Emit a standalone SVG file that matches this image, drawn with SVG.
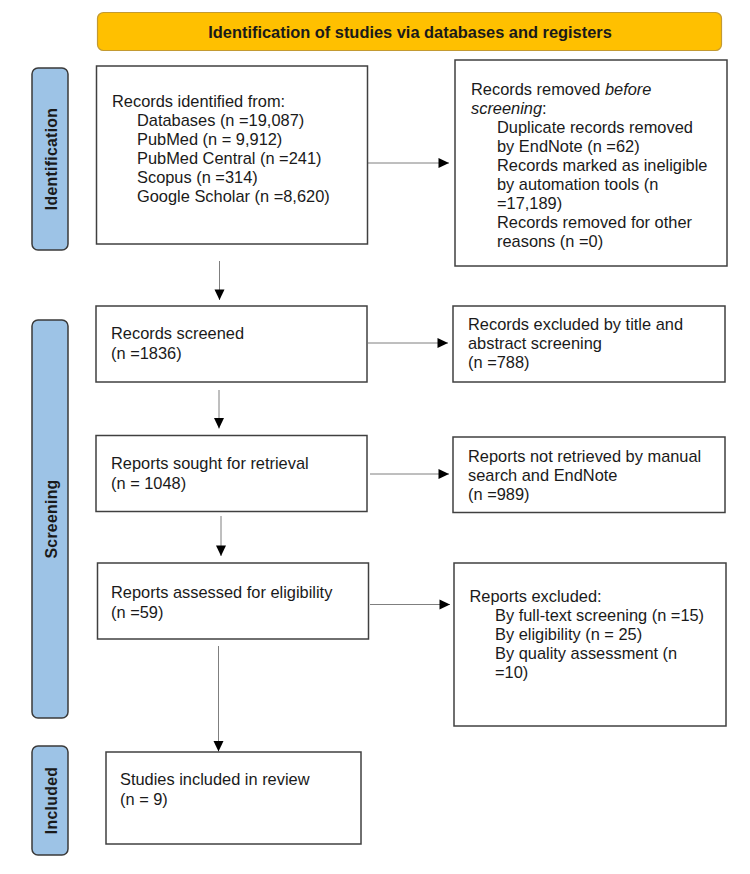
<svg xmlns="http://www.w3.org/2000/svg" width="750" height="874" viewBox="0 0 750 874">
<style>
.bg{fill:#ffffff}
.banner{fill:#FFC000;stroke:#C39A32;stroke-width:1.2}
.side{fill:#9DC3E6;stroke:#3a3a3a;stroke-width:1.5}
.box{fill:#ffffff;stroke:#404040;stroke-width:1.5}
.t{font-family:"Liberation Sans",Arial,sans-serif;font-size:16.4px;fill:#1a1a1a}
.h{font-family:"Liberation Sans",Arial,sans-serif;font-size:16.4px;font-weight:bold;fill:#1a1a1a}
.s{font-family:"Liberation Sans",Arial,sans-serif;font-size:15.8px;font-weight:bold;fill:#1a1a1a;letter-spacing:0.3px}
.c{stroke:#7f7f7f;stroke-width:1;fill:none}
</style>
<defs>
<marker id="ah" markerUnits="userSpaceOnUse" markerWidth="12" markerHeight="12" viewBox="0 0 12 12" refX="11" refY="6" orient="auto">
<path d="M0.5,1 L11,6 L0.5,11 Z" fill="#000"/>
</marker>
</defs>
<rect class="bg" x="0" y="0" width="750" height="874"/>
<g id="banner">
<rect class="banner" x="97.5" y="12.5" width="624" height="38" rx="6"/>
<text class="h" x="410" y="37.5" text-anchor="middle">Identification of studies via databases and registers</text>
</g>
<g id="side-identification">
<rect class="side" x="32" y="68" width="36" height="182" rx="6"/>
<text class="s" transform="translate(56.5,159) rotate(-90)" text-anchor="middle">Identification</text>
</g>
<g id="side-screening">
<rect class="side" x="32" y="320" width="36" height="398" rx="6"/>
<text class="s" transform="translate(56.5,519) rotate(-90)" text-anchor="middle">Screening</text>
</g>
<g id="side-included">
<rect class="side" x="32" y="746" width="36" height="109" rx="6"/>
<text class="s" transform="translate(56.5,800.5) rotate(-90)" text-anchor="middle">Included</text>
</g>
<g id="connectors">
<line class="c" x1="368" y1="163" x2="449" y2="163" marker-end="url(#ah)"/>
<line class="c" x1="219.5" y1="261" x2="219.5" y2="300" marker-end="url(#ah)"/>
<line class="c" x1="368" y1="343" x2="448" y2="343" marker-end="url(#ah)"/>
<line class="c" x1="219" y1="390" x2="219" y2="428.5" marker-end="url(#ah)"/>
<line class="c" x1="370" y1="474" x2="449" y2="474" marker-end="url(#ah)"/>
<line class="c" x1="221" y1="516" x2="221" y2="556" marker-end="url(#ah)"/>
<line class="c" x1="370" y1="604.5" x2="450" y2="604.5" marker-end="url(#ah)"/>
<line class="c" x1="218.5" y1="646" x2="218.5" y2="751.5" marker-end="url(#ah)"/>
</g>
<g id="records-identified">
<rect class="box" x="96.5" y="66" width="271" height="178"/>
<text class="t" x="112" y="106.5">Records identified from:</text>
<text class="t" x="137" y="125.5">Databases (n =19,087)</text>
<text class="t" x="137" y="144.5">PubMed (n = 9,912)</text>
<text class="t" x="137" y="163.5">PubMed Central (n =241)</text>
<text class="t" x="137" y="182.5">Scopus (n =314)</text>
<text class="t" x="137" y="201.5">Google Scholar (n =8,620)</text>
</g>
<g id="records-removed">
<rect class="box" x="455" y="60" width="272" height="206"/>
<text class="t" x="471" y="95">Records removed <tspan font-style="italic">before</tspan></text>
<text class="t" x="471" y="114"><tspan font-style="italic">screening</tspan>:</text>
<text class="t" x="497" y="133">Duplicate records removed</text>
<text class="t" x="497" y="152">by EndNote (n =62)</text>
<text class="t" x="497" y="171">Records marked as ineligible</text>
<text class="t" x="497" y="190">by automation tools (n</text>
<text class="t" x="497" y="209">=17,189)</text>
<text class="t" x="497" y="228">Records removed for other</text>
<text class="t" x="497" y="247">reasons (n =0)</text>
</g>
<g id="records-screened">
<rect class="box" x="96" y="306" width="271" height="76"/>
<text class="t" x="111" y="339">Records screened</text>
<text class="t" x="111" y="359">(n =1836)</text>
</g>
<g id="records-excluded">
<rect class="box" x="453" y="306" width="272" height="76"/>
<text class="t" x="468" y="329.5">Records excluded by title and</text>
<text class="t" x="468" y="348.5">abstract screening</text>
<text class="t" x="468" y="367.5">(n =788)</text>
</g>
<g id="reports-sought">
<rect class="box" x="96" y="435.5" width="271" height="76"/>
<text class="t" x="111" y="468.5">Reports sought for retrieval</text>
<text class="t" x="111" y="488.5">(n = 1048)</text>
</g>
<g id="reports-not-retrieved">
<rect class="box" x="453" y="437" width="272" height="75.5"/>
<text class="t" x="468" y="461.5">Reports not retrieved by manual</text>
<text class="t" x="468" y="480.5">search and EndNote</text>
<text class="t" x="468" y="499.5">(n =989)</text>
</g>
<g id="reports-assessed">
<rect class="box" x="97.5" y="563" width="271" height="76"/>
<text class="t" x="111" y="597.5">Reports assessed for eligibility</text>
<text class="t" x="111" y="618">(n =59)</text>
</g>
<g id="reports-excluded">
<rect class="box" x="454" y="563" width="272" height="163"/>
<text class="t" x="469.5" y="602">Reports excluded:</text>
<text class="t" x="495" y="621">By full-text screening (n =15)</text>
<text class="t" x="495" y="640">By eligibility (n = 25)</text>
<text class="t" x="495" y="659">By quality assessment (n</text>
<text class="t" x="495" y="678">=10)</text>
</g>
<g id="studies-included">
<rect class="box" x="106" y="752" width="255" height="92"/>
<text class="t" x="120" y="785">Studies included in review</text>
<text class="t" x="120" y="805">(n = 9)</text>
</g>
</svg>
